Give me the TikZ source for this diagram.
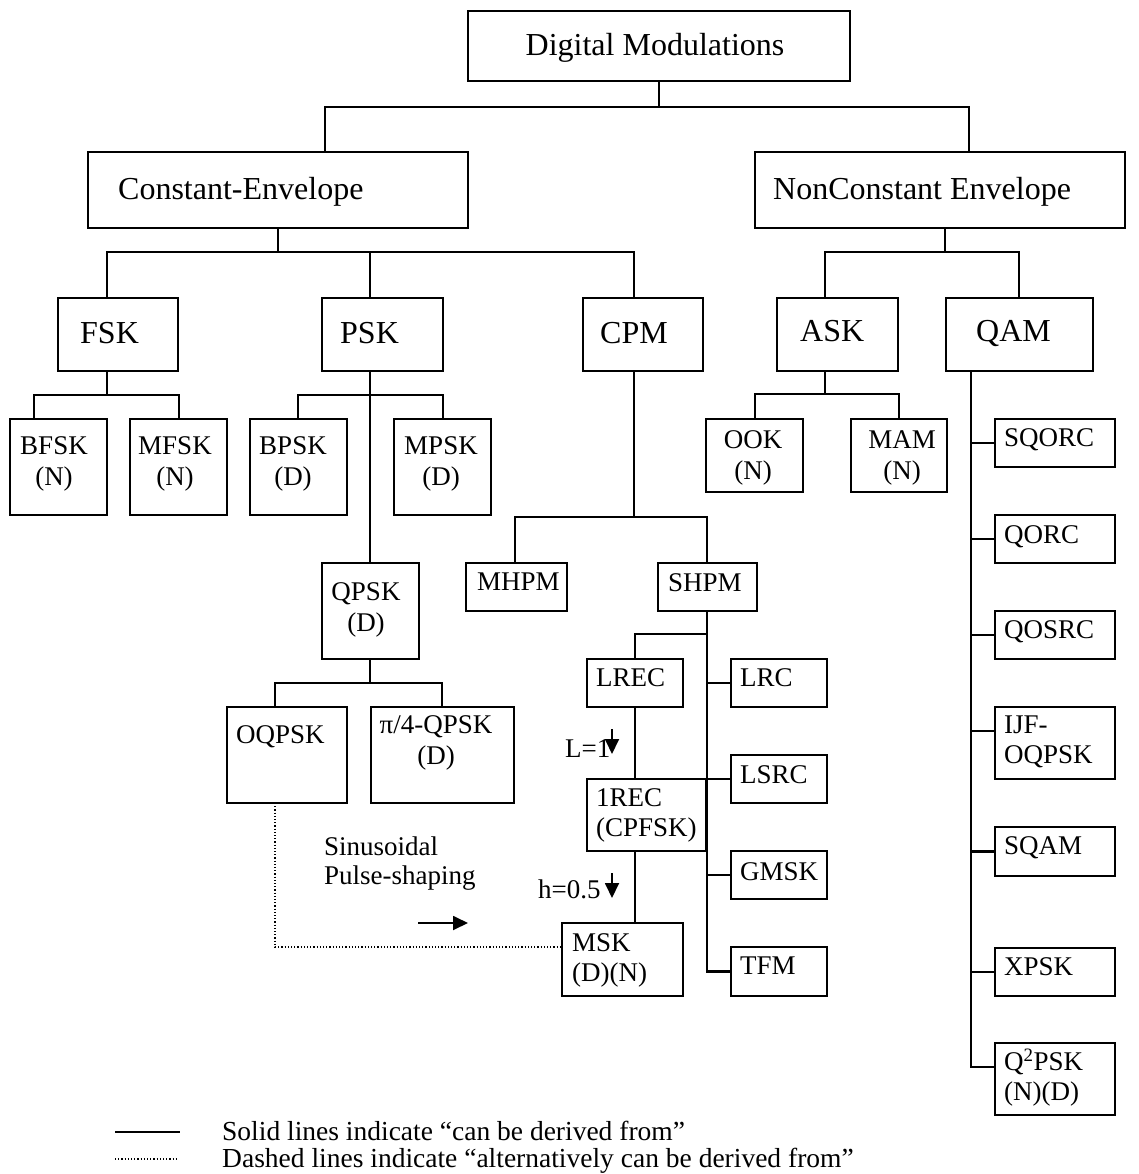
\documentclass[tikz,border=0pt]{standalone}
\usepackage{fontspec}
\setmainfont{Liberation Serif}
\usetikzlibrary{arrows.meta,calc}
\newcommand\bx[5]{\node[bx, minimum width={(#4)-(#2)}, minimum height={(#5)-(#3)}] (#1) at ({((#2)+(#4))/2},{((#3)+(#5))/2}) {};}
\begin{document}
\begin{tikzpicture}[x=1pt,y=-1pt,
  bx/.style={draw, line width=2.1pt, inner sep=0pt, outer sep=0pt},
  conn/.style={line width=2.1pt},
  dots/.style={line width=1.2pt, dotted},
  tip/.style={line width=1.8pt, -{Triangle[length=15pt,width=14pt]}},
  bigt/.style={font=\fontsize{32}{37}\selectfont, inner sep=0pt},
  smt/.style={font=\fontsize{27}{30}\selectfont, inner sep=0pt, align=left},
  smc/.style={font=\fontsize{27}{31}\selectfont, inner sep=0pt, align=center, anchor=north},
  legt/.style={font=\fontsize{27.5}{30}\selectfont, inner sep=0pt},
]
\useasboundingbox (0,0) rectangle (1139,1174);

% ---------- boxes ----------
\bx{dm}{468}{11}{850}{81}
\bx{ce}{88}{152}{468}{228}
\bx{nc}{755}{152}{1125}{228}
\bx{fsk}{58}{298}{178}{371}
\bx{psk}{322}{298}{443}{371}
\bx{cpm}{583}{298}{703}{371}
\bx{ask}{777}{298}{898}{371}
\bx{qam}{946}{298}{1093}{371}
\bx{bfsk}{10}{419}{107}{515}
\bx{mfsk}{130}{419}{227}{515}
\bx{bpsk}{250}{419}{347}{515}
\bx{mpsk}{394}{419}{491}{515}
\bx{ook}{706}{419}{803}{492}
\bx{mam}{851}{419}{947}{492}
\bx{qpsk}{322}{563}{419}{659}
\bx{mhpm}{466}{563}{567}{611}
\bx{shpm}{658}{563}{757}{611}
\bx{oqpsk}{227}{707}{347}{803}
\bx{piq}{371}{707}{514}{803}
\bx{lrec}{587}{659}{683}{707}
\bx{lrc}{731}{659}{827}{707}
\bx{lsrc}{731}{755}{827}{803}
\bx{onerec}{587}{779}{706}{851}
\bx{gmsk}{731}{851}{827}{899}
\bx{msk}{562}{923}{683}{996}
\bx{tfm}{731}{947}{827}{996}
\bx{sqorc}{995}{419}{1115}{467}
\bx{qorc}{995}{515}{1115}{563}
\bx{qosrc}{995}{611}{1115}{659}
\bx{ijf}{995}{707}{1115}{779}
\bx{sqam}{995}{827}{1115}{876}
\bx{xpsk}{995}{948}{1115}{996}
\bx{qqpsk}{995}{1043}{1115}{1115}

% ---------- texts ----------
\node[bigt, anchor=base] (t-dm) at (655,56) {Digital Modulations};
\node[bigt, anchor=base west] (t-ce) at (118,200) {Constant-Envelope};
\node[bigt, anchor=base west] (t-nc) at (773,200) {NonConstant Envelope};
\node[bigt, anchor=base west] (t-fsk) at (80,343) {FSK};
\node[bigt, anchor=base west] (t-psk) at (340,343) {PSK};
\node[bigt, anchor=base west] (t-cpm) at (600,343) {CPM};
\node[bigt, anchor=base west] (t-ask) at (800,341) {ASK};
\node[bigt, anchor=base west] (t-qam) at (976,341) {QAM};

\node[smc] (t-bfsk) at (54,436) {BFSK\\(N)};
\node[smc] (t-mfsk) at (175,436) {MFSK\\(N)};
\node[smc] (t-bpsk) at (293,436) {BPSK\\(D)};
\node[smc] (t-mpsk) at (441,436) {MPSK\\(D)};
\node[smc] (t-ook) at (753,430) {OOK\\(N)};
\node[smc] (t-mam) at (902,430) {MAM\\(N)};
\node[smc] (t-qpsk) at (366,582) {QPSK\\(D)};
\node[smc] (t-piq) at (436,715) {π/4-QPSK\\(D)};
\node[smt, anchor=north west] (t-oqpsk) at (236,725) {OQPSK};
\node[smt, anchor=north west] (t-mhpm) at (477,573) {MHPM};
\node[smt, anchor=north west] (t-shpm) at (668,573) {SHPM};
\node[smt, anchor=north west] (t-lrec) at (596,668) {LREC};
\node[smt, anchor=north west] (t-lrc) at (740,668) {LRC};
\node[smt, anchor=north west] (t-lsrc) at (740,765) {LSRC};
\node[smt, anchor=north west] (t-onerec) at (596,788) {1REC\\(CPFSK)};
\node[smt, anchor=north west] (t-gmsk) at (740,862) {GMSK};
\node[smt, anchor=north west] (t-msk) at (572,933) {MSK\\(D)(N)};
\node[smt, anchor=north west] (t-tfm) at (740,957) {TFM};
\node[smt, anchor=north west] (t-sqorc) at (1004,428) {SQORC};
\node[smt, anchor=north west] (t-qorc) at (1004,525) {QORC};
\node[smt, anchor=north west] (t-qosrc) at (1004,620) {QOSRC};
\node[smt, anchor=north west] (t-ijf) at (1004,716) {IJF-\\OQPSK};
\node[smt, anchor=north west] (t-sqam) at (1004,836) {SQAM};
\node[smt, anchor=north west] (t-xpsk) at (1004,957) {XPSK};
\node[smt, anchor=north west] (t-qqpsk) at (1004,1049) {Q\textsuperscript{2}PSK\\(N)(D)};
\node[smt, anchor=north west, font=\fontsize{27}{29}\selectfont] (t-sin) at (324,837) {Sinusoidal\\Pulse-shaping};
\node[smt, anchor=base west] (t-l1) at (565,757) {L=1};
\node[smt, anchor=base west] (t-h) at (538,898) {h=0.5};

% ---------- connectors ----------
\coordinate (j0L) at (325,107); \coordinate (j0R) at (969,107);
\draw[conn] (dm.south) |- (j0L) -- (j0L |- ce.north);
\draw[conn] (dm.south) |- (j0R) -- (j0R |- nc.north);

\coordinate (j1L) at (107,252); \coordinate (j1R) at (634,252);
\draw[conn] (ce.south) -- (ce.south |- j1L);
\draw[conn] (j1L |- fsk.north) -- (j1L) -- (j1R) -- (j1R |- cpm.north);
\coordinate (j1M) at (370,252);
\draw[conn] (j1M |- psk.north) -- (j1M);

\coordinate (j2L) at (825,252); \coordinate (j2R) at (1019,252); \coordinate (j2M) at (945,252);
\draw[conn] (j2M |- nc.south) -- (j2M);
\draw[conn] (j2L |- ask.north) -- (j2L) -- (j2R) -- (j2R |- qam.north);

\coordinate (j3L) at (34,395); \coordinate (j3R) at (179,395);
\draw[conn] (j1L |- fsk.south) -- (j1L |- j3L);
\draw[conn] (j3L |- bfsk.north) -- (j3L) -- (j3R) -- (j3R |- mfsk.north);

\draw[conn] (j1M |- psk.south) -- (j1M |- qpsk.north);
\coordinate (j4L) at (298,395); \coordinate (j4R) at (443,395);
\draw[conn] (j4L |- bpsk.north) -- (j4L) -- (j4R) -- (j4R |- mpsk.north);

\coordinate (j5L) at (275,683); \coordinate (j5R) at (442,683);
\draw[conn] (j1M |- qpsk.south) -- (j1M |- j5L);
\draw[conn] (j5L |- oqpsk.north) -- (j5L) -- (j5R) -- (j5R |- piq.north);

\coordinate (j6L) at (515,517); \coordinate (j6R) at (707,517);
\draw[conn] (j1R |- cpm.south) -- (j1R |- j6L);
\draw[conn] (j6L |- mhpm.north) -- (j6L) -- (j6R) -- (j6R |- shpm.north);

\coordinate (s0) at (707,634);
\draw[conn] (j6R |- shpm.south) -- (j6R |- tfm.west) -- (tfm.west);
\draw[conn] (j6R |- lrc.west) -- (lrc.west);
\draw[conn] (j6R |- lsrc.west) -- (lsrc.west);
\draw[conn] (j6R |- gmsk.west) -- (gmsk.west);
\draw[conn] (s0) -- (lrec.north |- s0) -- (lrec.north);
\draw[conn] (lrec.south) -- (lrec.south |- onerec.north);
\draw[conn] (lrec.south |- onerec.south) -- (lrec.south |- msk.north);

\coordinate (q4) at (971,731); \coordinate (q7) at (971,1067);
\draw[conn] (q7 |- qam.south) -- (q7) -- (q7 -| qqpsk.west);
\draw[conn] (q7 |- sqorc.west) -- (sqorc.west);
\draw[conn] (q7 |- qorc.west) -- (qorc.west);
\draw[conn] (q7 |- qosrc.west) -- (qosrc.west);
\draw[conn] (q4) -- (q4 -| ijf.west);
\draw[conn] (q7 |- sqam.west) -- (sqam.west);
\draw[conn] (q7 |- xpsk.west) -- (xpsk.west);

\coordinate (j7L) at (755,394); \coordinate (j7R) at (899,394);
\draw[conn] (j2L |- ask.south) -- (j2L |- j7L);
\draw[conn] (j7L |- ook.north) -- (j7L) -- (j7R) -- (j7R |- mam.north);

\coordinate (d0) at (275,947);
\draw[dots] (d0 |- oqpsk.south) -- (d0) -- (d0 -| msk.west);

% ---------- arrows ----------
\coordinate (a1s) at (612,729); \coordinate (a1e) at (612,754);
\draw[tip] (a1s) -- (a1e);
\coordinate (a2s) at (612,873); \coordinate (a2e) at (612,898);
\draw[tip] (a2s) -- (a2e);
\coordinate (a3s) at (418,923); \coordinate (a3e) at (468,923);
\draw[tip] (a3s) -- (a3e);

% ---------- legend ----------
\coordinate (l1s) at (115,1132); \coordinate (l1e) at (180,1132);
\draw[conn] (l1s) -- (l1e);
\coordinate (l2s) at (115,1159); \coordinate (l2e) at (178,1159);
\draw[dots] (l2s) -- (l2e);
\node[legt, anchor=base west] (legsolid) at (222,1140) {Solid lines indicate “can be derived from”};
\node[legt, anchor=base west] (legdash) at (222,1167) {Dashed lines indicate “alternatively can be derived from”};
\end{tikzpicture}
\end{document}
